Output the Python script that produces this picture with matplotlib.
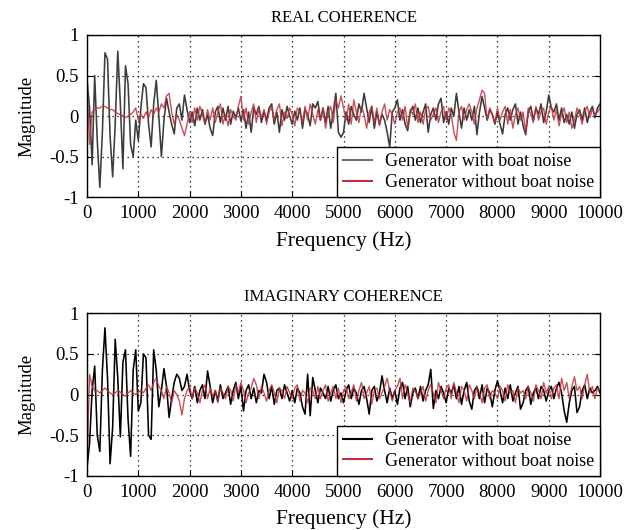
import numpy as np
import matplotlib
matplotlib.use("Agg")
import matplotlib.pyplot as plt

plt.rcParams['font.family'] = ['Liberation Serif', 'DejaVu Serif']

# frequency grid (Hz), 50 Hz step
freq = np.arange(0, 10001, 50)

# real coherence, generator with boat noise
real_boat = [
    0.45, 0.10, -0.60, 0.50, -0.30, -0.88, -0.20, 0.78, 0.70, -0.25,
    -0.75, -0.10, 0.80, 0.15, -0.65, 0.62, 0.40, -0.35, -0.50, -0.05,
    -0.30, 0.10, 0.40, 0.35, -0.10, -0.38, 0.15, 0.44, 0.00, -0.50,
    -0.05, 0.22, 0.05, -0.10, -0.22, 0.10, 0.15, -0.05, 0.26, 0.08,
    -0.08, 0.05, -0.12, 0.10, -0.05, 0.08, -0.10, 0.02, -0.15, -0.24,
    0.05, 0.12, -0.08, 0.10, -0.05, 0.12, -0.10, 0.06, -0.02, 0.10,
    -0.06, 0.08, -0.15, 0.05, -0.20, 0.10, 0.02, 0.12, -0.08, 0.06,
    -0.05, 0.10, 0.15, -0.10, 0.05, -0.20, 0.08, -0.05, 0.12, 0.00,
    -0.10, 0.06, -0.05, 0.10, -0.15, 0.08, 0.02, -0.12, 0.15, 0.10,
    0.18, -0.05, 0.10, -0.08, 0.12, -0.15, 0.05, 0.28, -0.20, -0.26,
    -0.20, 0.05, -0.10, 0.12, 0.02, -0.05, 0.15, 0.05, 0.28, 0.10,
    -0.08, 0.12, -0.15, 0.05, -0.10, 0.02, -0.05, -0.20, -0.38, 0.05,
    0.10, 0.20, -0.05, 0.08, -0.10, -0.18, 0.05, 0.12, -0.05, 0.10,
    -0.08, 0.05, 0.15, -0.20, 0.02, 0.10, -0.05, 0.15, 0.22, -0.08,
    0.05, -0.10, 0.10, 0.00, 0.28, 0.05, -0.15, 0.10, -0.05, 0.08,
    -0.05, 0.12, -0.23, 0.05, 0.24, 0.10, -0.05, 0.08, 0.02, -0.10,
    0.05, -0.10, -0.22, 0.02, 0.10, -0.05, 0.08, 0.15, -0.10, 0.05,
    -0.12, -0.23, 0.05, 0.12, -0.05, 0.10, 0.02, 0.15, -0.08, 0.05,
    0.26, 0.10, 0.05, 0.15, -0.05, 0.10, -0.08, 0.02, -0.10, 0.05,
    -0.15, 0.02, 0.08, -0.05, 0.10, -0.08, 0.05, 0.12, -0.02, 0.10,
    0.15,
]

# real coherence, generator without boat noise
real_clean = [
    0.40, -0.35, 0.05, 0.08, 0.10, 0.10, 0.12, 0.12, 0.10, 0.08,
    0.08, 0.05, 0.03, 0.02, 0.00, -0.02, 0.00, 0.02, 0.05, 0.10,
    -0.05, 0.02, -0.03, 0.05, -0.02, 0.08, 0.02, 0.10, 0.05, 0.15,
    0.10, 0.25, 0.28, 0.05, -0.10, 0.02, -0.05, -0.15, -0.24, -0.10,
    0.05, -0.08, 0.10, -0.05, 0.12, 0.02, -0.10, 0.08, -0.05, 0.10,
    -0.08, 0.05, 0.15, -0.10, 0.02, -0.12, 0.08, 0.00, -0.05, 0.12,
    0.24, -0.05, 0.10, -0.10, 0.05, 0.15, -0.08, 0.10, -0.02, 0.08,
    -0.10, 0.05, 0.12, -0.05, 0.08, 0.15, -0.12, 0.05, -0.03, 0.10,
    0.02, -0.12, 0.10, 0.05, -0.08, 0.12, -0.05, 0.15, 0.02, -0.10,
    0.08, -0.05, 0.10, -0.15, 0.05, 0.12, -0.08, 0.20, 0.10, 0.25,
    0.10, -0.05, 0.15, -0.10, 0.20, 0.05, -0.08, 0.12, 0.02, -0.15,
    0.05, 0.12, -0.08, 0.10, -0.12, 0.05, 0.15, -0.05, 0.08, 0.02,
    -0.10, 0.05, 0.10, -0.05, 0.12, -0.15, 0.08, 0.02, 0.15, -0.08,
    0.05, -0.10, 0.08, 0.12, -0.05, 0.02, 0.10, -0.08, 0.05, 0.12,
    -0.05, 0.10, 0.02, -0.20, -0.30, 0.05, 0.12, -0.05, 0.08, 0.15,
    0.05, -0.10, 0.10, 0.20, 0.32, 0.28, -0.05, 0.10, 0.02, -0.08,
    0.10, -0.05, 0.05, 0.12, -0.10, 0.08, -0.15, 0.02, 0.10, -0.05,
    0.05, -0.20, 0.10, 0.02, -0.08, 0.12, -0.05, 0.05, 0.10, -0.10,
    0.05, 0.12, -0.05, 0.08, -0.12, 0.02, 0.10, -0.08, 0.05, -0.15,
    -0.05, 0.10, 0.02, -0.10, 0.05, 0.12, -0.02, 0.08, 0.02, 0.05,
    0.10,
]

# imaginary coherence, generator with boat noise
imag_boat = [
    -0.90, -0.60, 0.05, 0.35, -0.50, -0.70, 0.30, 0.82, 0.20, -0.85,
    -0.40, 0.68, 0.20, -0.52, 0.40, 0.55, -0.30, -0.76, 0.30, 0.55,
    -0.20, -0.10, 0.50, 0.45, -0.50, -0.55, 0.55, 0.30, -0.15, 0.05,
    0.32, 0.10, -0.28, -0.05, 0.15, 0.25, 0.20, 0.05, 0.10, 0.25,
    0.05, -0.05, 0.10, -0.10, 0.05, 0.12, -0.05, 0.29, 0.10, -0.10,
    0.05, -0.08, 0.12, -0.05, 0.02, 0.10, -0.12, 0.05, 0.15, -0.05,
    0.10, -0.20, 0.05, 0.12, -0.05, 0.08, -0.10, 0.05, 0.02, 0.25,
    0.15, -0.05, 0.10, -0.12, 0.05, 0.08, -0.05, 0.12, 0.02, -0.08,
    0.05, -0.10, 0.08, 0.02, -0.15, -0.24, 0.25, -0.26, 0.21, 0.05,
    -0.10, 0.08, 0.02, -0.05, 0.10, -0.08, 0.05, 0.12, -0.05, 0.02,
    -0.10, 0.05, 0.12, -0.05, 0.08, 0.02, -0.12, 0.05, 0.10, -0.05,
    -0.24, 0.05, 0.10, -0.08, 0.02, 0.23, 0.05, -0.10, 0.08, -0.05,
    0.05, -0.12, 0.08, 0.15, -0.05, 0.10, -0.15, 0.02, 0.08, -0.05,
    0.10, -0.08, 0.05, 0.12, 0.31, -0.17, 0.05, -0.05, 0.10, 0.02,
    -0.10, 0.08, 0.02, 0.12, -0.05, 0.10, -0.12, 0.05, 0.15, -0.08,
    -0.18, 0.05, 0.10, -0.05, 0.12, -0.10, 0.08, 0.02, -0.15, 0.05,
    0.17, 0.05, -0.10, 0.08, -0.05, 0.12, -0.08, 0.02, 0.10, -0.18,
    -0.10, 0.05, 0.10, -0.12, 0.02, 0.08, -0.05, 0.10, 0.05, -0.08,
    0.05, 0.10, -0.05, 0.08, 0.15, 0.02, -0.20, -0.34, -0.10, 0.05,
    0.10, -0.22, -0.15, 0.05, 0.12, -0.05, 0.08, 0.02, 0.05, 0.10,
    0.02,
]

# imaginary coherence, generator without boat noise
imag_clean = [
    -0.90, 0.25, 0.10, 0.05, 0.05, 0.02, 0.05, 0.08, 0.05, 0.02,
    0.00, 0.02, 0.05, 0.03, 0.00, -0.02, 0.02, 0.05, 0.02, 0.00,
    0.03, 0.05, 0.02, 0.08, 0.12, 0.05, 0.15, 0.20, 0.10, 0.05,
    -0.05, 0.10, 0.02, -0.10, 0.05, 0.00, -0.08, -0.25, -0.05, 0.05,
    0.10, -0.05, 0.08, 0.02, -0.10, 0.05, 0.12, -0.05, 0.08, -0.02,
    0.05, -0.10, 0.08, 0.02, -0.05, 0.10, 0.05, -0.08, 0.12, 0.02,
    0.15, 0.05, -0.10, 0.02, 0.08, 0.20, 0.12, -0.05, 0.10, 0.02,
    -0.08, 0.05, 0.12, 0.02, -0.10, 0.08, 0.05, -0.05, 0.10, 0.02,
    -0.05, 0.08, 0.12, -0.08, 0.05, 0.02, -0.10, 0.08, 0.05, -0.05,
    0.10, -0.05, 0.05, 0.12, -0.08, 0.02, 0.10, -0.05, 0.08, -0.10,
    0.05, 0.10, -0.05, 0.02, 0.12, -0.08, 0.05, 0.15, -0.05, 0.02,
    0.10, -0.12, 0.05, 0.08, -0.05, 0.02, 0.10, 0.20, 0.05, -0.08,
    0.05, 0.10, 0.20, -0.05, 0.12, 0.02, -0.10, 0.08, 0.05, -0.05,
    0.02, 0.10, -0.08, 0.05, 0.12, 0.02, -0.10, 0.15, 0.05, -0.05,
    0.08, 0.12, -0.05, 0.15, 0.02, -0.10, 0.10, 0.05, -0.08, 0.12,
    0.05, -0.05, 0.10, 0.02, -0.10, 0.08, 0.12, -0.05, 0.05, 0.02,
    -0.05, 0.10, 0.05, -0.08, 0.12, 0.02, 0.05, -0.10, 0.08, 0.02,
    0.05, -0.05, 0.10, 0.02, -0.08, 0.12, 0.05, -0.05, 0.15, 0.02,
    0.10, -0.05, 0.08, 0.12, -0.05, 0.20, 0.05, 0.15, -0.05, 0.10,
    0.22, 0.05, 0.10, -0.05, 0.12, 0.25, 0.02, 0.10, -0.05, 0.08,
    0.05,
]

titles = ["REAL COHERENCE", "IMAGINARY COHERENCE"]
xticks = np.arange(0, 10001, 1000)
yticks = [-1, -0.5, 0, 0.5, 1]
yticklabels = ["-1", "-0.5", "0", "0.5", "1"]

fig = plt.figure(figsize=(6.35, 5.30), dpi=100)
ax1 = fig.add_axes([0.137, 0.628, 0.808, 0.306])
ax2 = fig.add_axes([0.137, 0.102, 0.808, 0.307])

panels = [
    (ax1, real_boat, real_clean, "#3c3c3c", "#707070"),
    (ax2, imag_boat, imag_clean, "black", "black"),
]

for (ax, boat, clean, kcol, legcol), title in zip(panels, titles):
    ax.plot(freq, boat, color=kcol, lw=1.15, label="Generator with boat noise")
    ax.plot(freq, clean, color="#c0303c", lw=1.0, alpha=0.85,
            label="Generator without boat noise")
    ax.set_xlim(0, 10000)
    ax.set_ylim(-1, 1)
    ax.set_xticks(xticks)
    ax.set_yticks(yticks)
    ax.set_yticklabels(yticklabels)
    ax.tick_params(direction="in", length=4, labelsize=13.5, top=False,
                   right=True, pad=6)
    ax.grid(True, color="black", linestyle=(0, (1, 3)), linewidth=0.9)
    for s in ax.spines.values():
        s.set_linewidth(1.0)
    ax.set_title(title, fontsize=12, pad=9)
    ax.set_xlabel("Frequency (Hz)", fontsize=15.5, labelpad=6)
    ax.set_ylabel("Magnitude", fontsize=13.5, labelpad=10)
    leg = ax.legend(loc="lower right", borderaxespad=0, fancybox=False,
                    framealpha=1, edgecolor="black", fontsize=13,
                    handlelength=1.6, handletextpad=0.7, borderpad=0.35,
                    labelspacing=0.2)
    leg.get_frame().set_linewidth(1.0)
    leg.get_lines()[0].set_color(legcol)
    leg.get_lines()[0].set_linewidth(1.5)
    leg.get_lines()[1].set_linewidth(1.5)
    leg.get_lines()[1].set_alpha(1)

fig.savefig("out.png", dpi=100)
